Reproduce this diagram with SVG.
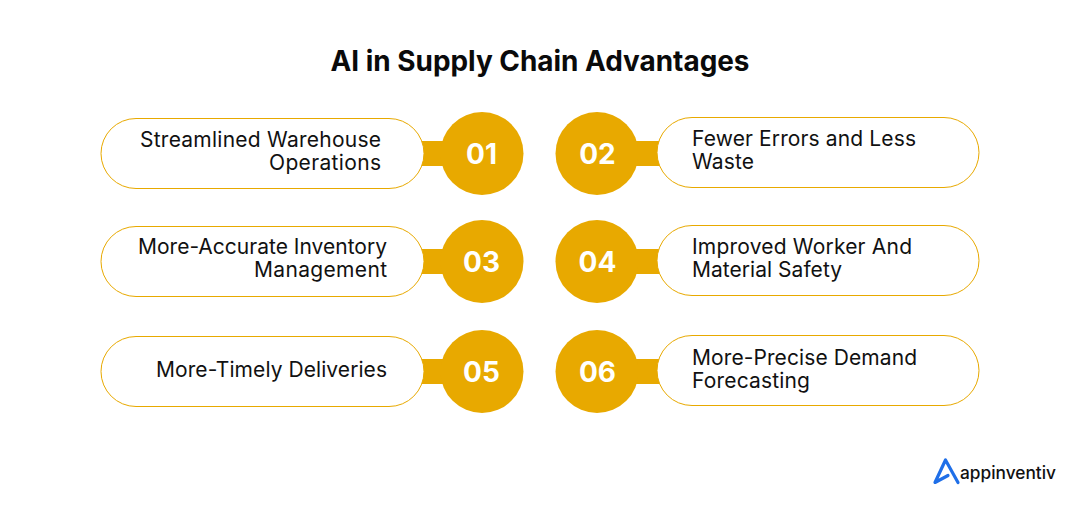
<svg xmlns="http://www.w3.org/2000/svg" width="1080" height="525" viewBox="0 0 1080 525">
<style>
.t{font-family:"Inter","Noto Sans",sans-serif;font-size:21px;fill:#111}
.p{fill:#fff;stroke:#e8a900;stroke-width:1}
.c{fill:#e8a900}
.n{font-family:"Inter","Noto Sans",sans-serif;font-size:28px;font-weight:700;fill:#fff;text-anchor:middle}
.e{text-anchor:end}
</style>
<rect width="1080" height="525" fill="#fff"/>
<text x="540" y="71" text-anchor="middle" font-family="Inter,sans-serif" font-size="27.900" font-weight="700" fill="#0a0a0a">AI in Supply Chain Advantages</text>
<g id="connectors">
<rect class="c" x="415" y="141" width="35" height="25"/><rect class="c" x="630" y="141" width="35" height="25"/>
<rect class="c" x="415" y="249" width="35" height="25"/><rect class="c" x="630" y="249" width="35" height="25"/>
<rect class="c" x="415" y="359" width="35" height="25"/><rect class="c" x="630" y="359" width="35" height="25"/>
</g>
<g id="n1"><rect class="p" x="101" y="118.500" width="323" height="70" rx="35"/><circle class="c" cx="482" cy="153.500" r="41.500"/><text class="t e" x="381" y="147" textLength="241">Streamlined Warehouse</text><text class="t e" x="381" y="170" textLength="112">Operations</text><text class="n" x="481.500" y="163.500">01</text></g>
<g id="n2"><rect class="p" x="657" y="117.500" width="322" height="70" rx="35"/><circle class="c" cx="597" cy="153.500" r="41.500"/><text class="t" x="692" y="146" textLength="224">Fewer Errors and Less</text><text class="t" x="692" y="169" textLength="62">Waste</text><text class="n" x="597.500" y="163.500">02</text></g>
<g id="n3"><rect class="p" x="101" y="226.500" width="323" height="70" rx="35"/><circle class="c" cx="482" cy="261.500" r="41.500"/><text class="t e" x="387" y="254" textLength="249">More-Accurate Inventory</text><text class="t e" x="387" y="277" textLength="133">Management</text><text class="n" x="481.500" y="271.500">03</text></g>
<g id="n4"><rect class="p" x="657" y="225.500" width="322" height="70" rx="35"/><circle class="c" cx="597" cy="261.500" r="41.500"/><text class="t" x="692" y="254" textLength="220">Improved Worker And</text><text class="t" x="692" y="277" textLength="150">Material Safety</text><text class="n" x="597.500" y="271.500">04</text></g>
<g id="n5"><rect class="p" x="101" y="336.500" width="323" height="70" rx="35"/><circle class="c" cx="482" cy="371.500" r="41.500"/><text class="t e" x="387" y="377" textLength="231">More-Timely Deliveries</text><text class="n" x="481.500" y="381.500">05</text></g>
<g id="n6"><rect class="p" x="657" y="335.500" width="322" height="70" rx="35"/><circle class="c" cx="597" cy="371.500" r="41.500"/><text class="t" x="692" y="365" textLength="225">More-Precise Demand</text><text class="t" x="692" y="388" textLength="118">Forecasting</text><text class="n" x="597.500" y="381.500">06</text></g>
<g id="logo"><path d="M958 482.500 L945.500 460 L935 482.500 L948 475.500" fill="none" stroke="#1f6fe8" stroke-width="3.200" stroke-linejoin="round" stroke-linecap="round"/><text x="960" y="479" font-family="Inter,sans-serif" font-size="17.300" font-weight="500" fill="#111">appinventiv</text></g>
</svg>
